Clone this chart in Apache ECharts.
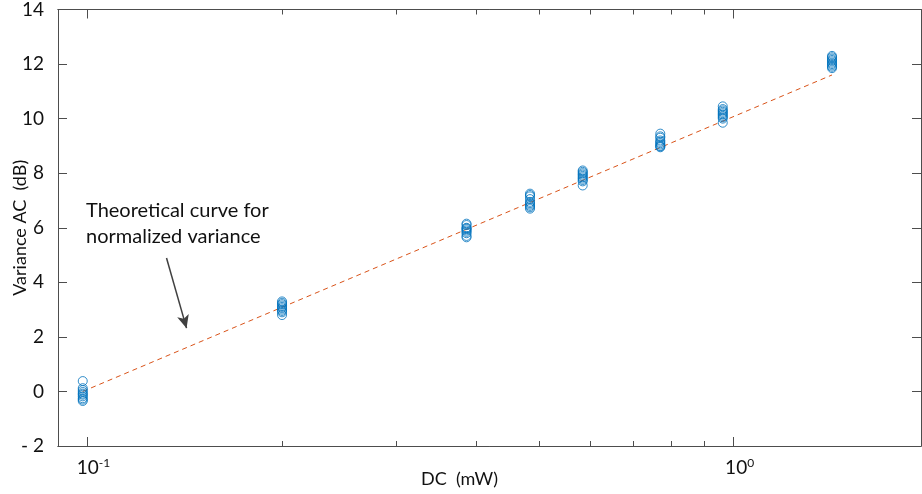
<!DOCTYPE html>
<html>
<head>
<meta charset="utf-8">
<script src="https://cdn.jsdelivr.net/npm/echarts@6/dist/echarts.min.js"></script>
<style>
html,body{margin:0;padding:0;background:#fff;}
#chart{width:922px;height:494px;}
</style>
</head>
<body>
<div id="chart"></div>
<script>
// ---- data ----
const DC_LEVELS = [0.0983, 0.2, 0.386, 0.484, 0.584, 0.77, 0.962, 1.42];
const VAR_0 = [0.38, 0.12, 0.05, -0.02, -0.08, -0.12, -0.18, -0.25, -0.3, -0.35];
const VAR_1 = [3.3, 3.25, 3.2, 3.15, 3.1, 3.05, 3.0, 2.95, 2.9, 2.8];
const VAR_2 = [6.15, 6.1, 6.0, 5.98, 5.95, 5.9, 5.85, 5.8, 5.7, 5.65];
const VAR_3 = [7.25, 7.2, 7.15, 7.05, 6.95, 6.9, 6.85, 6.8, 6.75, 6.7];
const VAR_4 = [8.1, 8.05, 8.0, 7.95, 7.9, 7.85, 7.8, 7.75, 7.7, 7.55];
const VAR_5 = [9.45, 9.35, 9.3, 9.2, 9.15, 9.1, 9.05, 9.0, 8.98, 8.95];
const VAR_6 = [10.45, 10.35, 10.3, 10.25, 10.2, 10.15, 10.1, 10.05, 10.0, 9.85];
const VAR_7 = [12.3, 12.25, 12.2, 12.15, 12.1, 12.05, 12.0, 11.95, 11.9, 11.85];
const VAR_GROUPS = [VAR_0, VAR_1, VAR_2, VAR_3, VAR_4, VAR_5, VAR_6, VAR_7];

const THEORY_X = [0.0983, 1.42];
const THEORY_Y = [0, 11.6];

const X_MIN = 0.09, X_MAX = 1.95;
const X_MAJOR_TICKS = [0.1, 1];
const X_MINOR_TICKS = [0.2, 0.3, 0.4, 0.5, 0.6, 0.7, 0.8, 0.9];
const Y_MIN = -2, Y_MAX = 14, Y_STEP = 2;

const X_TITLE = 'DC  (mW)';
const Y_TITLE = 'Variance AC  (dB)';
const ANNOT_TEXT = 'Theoretical curve for\nnormalized variance';
const ARROW_FROM = [0.1325, 4.89];
const ARROW_TO = [0.1423, 2.32];

// ---- build ----
const scatterData = [];
DC_LEVELS.forEach((x, i) => VAR_GROUPS[i].forEach(v => scatterData.push([x, v])));
const theoryData = THEORY_X.map((x, i) => [x, THEORY_Y[i]]);

const FONT = 'Lato';
const AX = '#4d4d4d';
const TXT = '#111';

function xAxisDef(pos, ticks, len, showLabel) {
  return {
    type: 'log', logBase: 10, min: X_MIN, max: X_MAX, position: pos,
    axisLine: {show: true, onZero: false, lineStyle: {color: AX, width: 1}},
    axisTick: {show: true, inside: true, length: len, customValues: ticks, lineStyle: {color: AX, width: 1}},
    axisLabel: showLabel ? {
      show: true, customValues: ticks, margin: 11, padding: [0, 0, 0, 12],
      formatter: v => '{b|10}{s|' + Math.round(Math.log10(v)) + '}',
      rich: {
        b: {fontFamily: FONT, fontSize: 19, color: TXT, verticalAlign: 'bottom', lineHeight: 20},
        s: {fontFamily: FONT, fontSize: 12, color: TXT, verticalAlign: 'top', lineHeight: 20, padding: [0, 0, 8, 0]}
      }
    } : {show: false},
    splitLine: {show: false}, minorTick: {show: false}
  };
}

const chart = echarts.init(document.getElementById('chart'), null, {renderer: 'canvas'});
chart.setOption({
  animation: false,
  backgroundColor: '#fff',
  grid: {left: 58, right: 1, top: 9.5, bottom: 48, containLabel: false, outerBoundsMode: 'none'},
  xAxis: [
    xAxisDef('bottom', X_MAJOR_TICKS, 9, true),
    xAxisDef('bottom', X_MINOR_TICKS, 5, false),
    xAxisDef('top', X_MAJOR_TICKS, 9, false),
    xAxisDef('top', X_MINOR_TICKS, 5, false)
  ],
  yAxis: [
    {
      type: 'value', min: Y_MIN, max: Y_MAX, interval: Y_STEP, position: 'left',
      name: Y_TITLE, nameLocation: 'middle', nameGap: 29, nameRotate: 90, nameMoveOverlap: false,
      nameTextStyle: {fontFamily: FONT, fontSize: 18, color: TXT},
      axisLine: {show: true, onZero: false, lineStyle: {color: AX}},
      axisTick: {show: true, inside: true, length: 9, lineStyle: {color: AX}},
      axisLabel: {fontFamily: FONT, fontSize: 19, color: TXT, margin: 14,
        formatter: v => v < 0 ? '- ' + Math.abs(v) : String(v)},
      splitLine: {show: false}
    },
    {
      type: 'value', min: Y_MIN, max: Y_MAX, interval: Y_STEP, position: 'right',
      axisLine: {show: true, onZero: false, lineStyle: {color: AX}},
      axisTick: {show: true, inside: true, length: 9, lineStyle: {color: AX}},
      axisLabel: {show: false}, splitLine: {show: false}
    }
  ],
  series: [
    {
      type: 'line', data: theoryData, xAxisIndex: 0, yAxisIndex: 0,
      showSymbol: false, symbol: 'none', z: 3,
      lineStyle: {color: '#D95319', width: 1, type: [5, 4]},
      markLine: {
        silent: true, symbol: ['none', 'arrow'], symbolSize: [9, 13],
        label: {show: false},
        lineStyle: {color: '#404040', width: 1.5, type: 'solid'},
        data: [[{coord: ARROW_FROM}, {coord: ARROW_TO}]]
      }
    },
    {
      type: 'scatter', data: scatterData, xAxisIndex: 0, yAxisIndex: 0,
      symbol: 'circle', symbolSize: 9, z: 4,
      itemStyle: {color: 'rgba(0,0,0,0)', borderColor: '#0072BD', borderWidth: 1}
    }
  ],
  graphic: [
    {
      type: 'text', left: 86, top: 198, z: 10,
      style: {text: ANNOT_TEXT, fontFamily: FONT, fontSize: 20, lineHeight: 26, fill: TXT}
    },
    {
      type: 'text', left: 421, top: 470, z: 10,
      style: {text: X_TITLE, fontFamily: FONT, fontSize: 18, fill: TXT}
    }
  ]
});
</script>
</body>
</html>
